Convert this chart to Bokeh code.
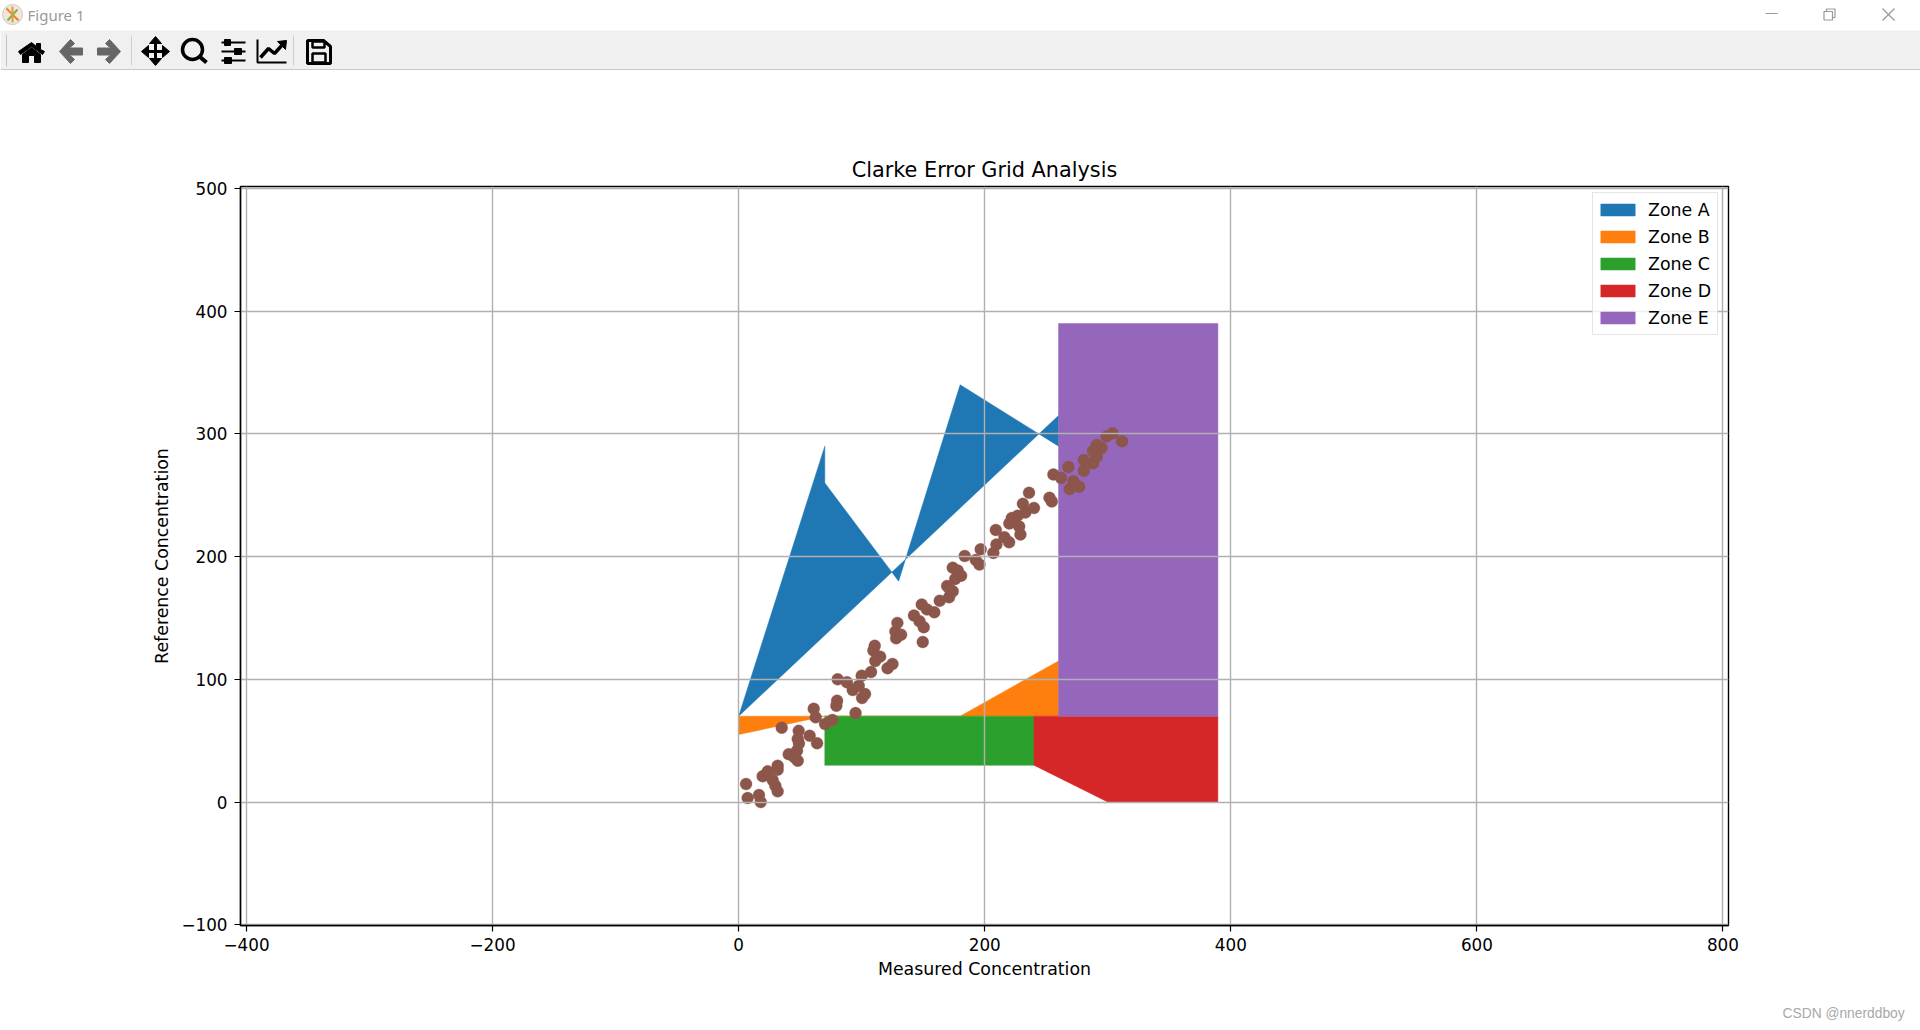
from bokeh.plotting import figure
from bokeh.models import Range1d, Legend, LegendItem
from bokeh.core.properties import value
from bokeh.embed import file_html
from bokeh.resources import INLINE

TITLE = "Clarke Error Grid Analysis"
X_LABEL = "Measured Concentration"
Y_LABEL = "Reference Concentration"
X_TICKS = [-400, -200, 0, 200, 400, 600, 800]
Y_TICKS = [-100, 0, 100, 200, 300, 400, 500]

ZONE_NAMES = ["Zone A", "Zone B", "Zone C", "Zone D", "Zone E"]
ZONE_COLORS = ["#1f77b4", "#ff7f0e", "#2ca02c", "#d62728", "#9467bd"]
ZONE_A_X = [0, 70, 70, 130, 180, 260, 260]
ZONE_A_Y = [70, 290, 260, 180, 340, 290, 315]
ZONE_B_X = [0, 70, 180, 260, 260, 0]
ZONE_B_Y = [55, 70, 70, 115, 70, 70]
ZONE_C_X = [70, 240, 240, 70]
ZONE_C_Y = [30, 30, 70, 70]
ZONE_D_X = [240, 300, 389.5, 389.5, 240]
ZONE_D_Y = [30, 0, 0, 70, 70]
ZONE_E_X = [260, 389.5, 389.5, 260]
ZONE_E_Y = [70, 70, 390, 390]

POINTS_X = [6, 7.3, 16.5, 17.9, 19.5, 23.6, 31.7, 31.7, 27.6, 29.8, 31.7, 40.7, 45.3, 48, 47.4, 49, 48.8, 48,
            57.7, 63.7, 35, 61, 62.6, 70.2, 76.2, 80, 79.4, 80.5, 88, 92.7, 97.6, 100.3, 102.7, 95, 100, 107.6,
            110.6, 109.5, 115, 111, 121, 125, 127.4, 129, 132, 128, 142.5, 147, 150.4, 149.6, 148.8, 153, 159,
            163.4, 171, 169.4, 174, 171.5, 174, 178, 180.8, 176, 183.7, 192.7, 195.7, 196.7, 207, 209.5, 209,
            216, 219.8, 229, 228, 220, 222, 226.8, 233, 240, 231, 236, 252.6, 254.5, 255.8, 262, 268, 269, 272,
            276.7, 280.5, 280.5, 288, 291, 288, 295, 291, 299, 304, 311.6]
POINTS_Y = [14.7, 3.3, 5.7, 0, 21, 25, 29.6, 26.4, 18, 13.3, 8.7, 39, 36.4, 33.7, 41.8, 47.8, 58, 51.4,
            54, 48, 60.6, 76, 69, 63.6, 66.8, 82.6, 78.5, 100, 97.6, 91.3, 94.8, 84.8, 88, 72.5, 103, 106,
            127.4, 123.4, 118.5, 115, 109, 112.5, 139, 146, 136.4, 133.4, 152, 147.3, 142.4, 130.4, 160.9, 157, 154.6,
            164, 166.8, 176, 171.7, 173.6, 191, 188.6, 184.5, 181.8, 200.5, 197.3, 193.5, 206, 203, 209.8, 221.7,
            215.8, 211.7, 218, 224.5, 227, 231.5, 233.4, 236, 239.7, 243, 252, 248, 245, 267, 264, 273, 255, 261.4,
            257, 270, 278.8, 276, 281.5, 286, 288.6, 291, 297.8, 300.5, 294]
POINT_COLOR = "#8c564b"

# ---------- window chrome (title bar and toolbar strip) ----------
chrome = figure(width=1920, height=70, x_range=Range1d(0, 1920), y_range=Range1d(70, 0),
                x_axis_type=None, y_axis_type=None, toolbar_location=None, output_backend="svg",
                min_border=0, outline_line_color=None)
chrome.xgrid.visible = False
chrome.ygrid.visible = False
chrome.quad(left=0, right=1920, top=30, bottom=70, fill_color="#f0f0f0", line_color=None)
chrome.line([0, 1920], [69.5, 69.5], line_color="#bdbdbd", line_width=1.5)
chrome.text([27], [14], text=["Figure 1"], text_font=value("Noto Sans"), text_font_size="15px",
            text_color="#9a9a9a", text_baseline="middle")
chrome.scatter([12], [14], size=20, fill_color="#f4e6d8", line_color="#c8c8c8")
chrome.multi_line([[6, 18], [7, 17], [12, 12]], [[8, 20], [20, 9], [6, 22]],
                  line_color=["#e8842c", "#6fb552", "#d9a032"], line_width=2)
chrome.line([1765, 1777], [13, 13], line_color="#999999", line_width=1.2)
chrome.quad(left=[1823.5], right=[1832], top=[11], bottom=[19.5], fill_color=None, line_color="#999999", line_width=1.2)
chrome.multi_line([[1826, 1826, 1834.5, 1834.5, 1832], [1882, 1894], [1882, 1894]],
                  [[11, 8.5, 8.5, 17, 17], [8, 20], [20, 8]], line_color="#999999", line_width=1.2)
# grip and separators
chrome.multi_line([[6, 6], [131, 131], [293, 293]], [[34, 66], [35, 65], [35, 65]],
                  line_color=["#c4c4c4", "#cfcfcf", "#cfcfcf"], line_width=1)
# home
chrome.patch([18, 31, 36, 36, 40, 40, 44, 42, 31, 20], [51, 42, 46, 43, 43, 49, 51, 54, 46, 54], color="black")
chrome.patch([22, 31, 40, 40, 34, 34, 28, 28, 22], [54, 47, 54, 62, 62, 55, 55, 62, 62], color="black")
# back / forward
chrome.patch([59, 70, 74, 69, 82, 82, 69, 74, 70], [51, 39, 43, 47.5, 47.5, 54.5, 54.5, 59, 63], color="#666666")
chrome.patch([120, 109, 105, 110, 97, 97, 110, 105, 109], [51, 39, 43, 47.5, 47.5, 54.5, 54.5, 59, 63], color="#666666")
# move
chrome.multi_line([[144, 166], [155, 155]], [[51, 51], [40, 62]], line_color="black", line_width=3)
chrome.patches([[141, 148, 148], [169, 162, 162], [155, 149, 161], [155, 149, 161]],
               [[51, 45, 57], [51, 45, 57], [36, 43, 43], [65, 58, 58]], color="black")
# zoom
chrome.scatter([192], [49], size=20, fill_color=None, line_color="black", line_width=3.5)
chrome.line([199, 206], [56, 62], line_color="black", line_width=4)
# subplots
chrome.multi_line([[221, 245], [221, 245], [221, 245]], [[42, 42], [51, 51], [60, 60]], line_color="black", line_width=2)
chrome.quad(left=[224, 234, 224], right=[230, 241, 231], top=[39, 48, 57], bottom=[45, 54, 63], color="black")
# axes
chrome.line([257, 257, 286], [39, 62, 62], line_color="black", line_width=2)
chrome.line([260, 268, 274, 283], [57, 48, 53, 43], line_color="black", line_width=3.5)
chrome.patch([277, 286, 285], [41, 40, 49], color="black")
# save
chrome.patch([307, 323, 330, 330, 307], [40, 40, 46, 63, 63], fill_color=None, line_color="black", line_width=3)
chrome.quad(left=[312, 312], right=[324, 325], top=[41, 53], bottom=[47, 62], fill_color=None, line_color="black", line_width=2.5)

# ---------- chart ----------
p = figure(width=1920, height=930, x_range=Range1d(-404.9, 804.5), y_range=Range1d(-100.6, 501.6),
           toolbar_location=None, output_backend="svg",
           min_border_left=240, min_border_right=192, min_border_top=116, min_border_bottom=75,
           x_axis_label=X_LABEL, y_axis_label=Y_LABEL, title=TITLE)
p.title.align = "center"
p.title.text_font = "DejaVu Sans"
p.title.text_font_size = "20.8px"
p.title.text_font_style = "normal"
p.title.text_color = "black"
p.outline_line_color = "black"
p.outline_line_width = 1.4
p.outline_line_alpha = 1

for ax, ticks in ((p.xaxis[0], X_TICKS), (p.yaxis[0], Y_TICKS)):
    ax.ticker = ticks
    ax.major_label_overrides = {t: str(t).replace("-", "\u2212") for t in ticks}
    ax.major_label_text_font = "DejaVu Sans"
    ax.major_label_text_font_size = "16.8px"
    ax.major_label_text_color = "black"
    ax.axis_label_text_font = "DejaVu Sans"
    ax.axis_label_text_font_size = "17.36px"
    ax.axis_label_text_font_style = "normal"
    ax.axis_label_text_color = "black"
    ax.axis_line_color = "black"
    ax.axis_line_width = 1.4
    ax.major_tick_line_color = "black"
    ax.major_tick_line_width = 1.2
    ax.major_tick_in = 0
    ax.major_tick_out = 6
    ax.minor_tick_line_color = None
p.xaxis[0].major_label_standoff = 6
p.yaxis[0].major_label_standoff = 7
p.yaxis[0].axis_label_standoff = 6
for g in (p.xgrid[0], p.ygrid[0]):
    g.grid_line_color = "#b0b0b0"
    g.grid_line_width = 1.4
    g.level = "underlay"

zones = [(ZONE_A_X, ZONE_A_Y), (ZONE_B_X, ZONE_B_Y), (ZONE_C_X, ZONE_C_Y), (ZONE_D_X, ZONE_D_Y), (ZONE_E_X, ZONE_E_Y)]
items = []
for name, col, (zx, zy) in zip(ZONE_NAMES, ZONE_COLORS, zones):
    r = p.patch(zx, zy, fill_color=col, line_color=col, line_width=0.5, level="image")
    items.append(LegendItem(label=name, renderers=[r]))

p.scatter(POINTS_X, POINTS_Y, size=12, fill_color=POINT_COLOR, line_color=POINT_COLOR, line_width=0.3, level="image")

legend = Legend(items=items, location=(1592 - 240, 924 - 334), orientation="vertical",
                label_text_font="DejaVu Sans", label_text_font_size="17.36px", label_text_color="black",
                glyph_width=43, glyph_height=15, label_standoff=9, spacing=0, label_height=27, label_width=66,
                margin=0, padding=3, background_fill_color="white", background_fill_alpha=0.8,
                border_line_color="#cccccc", border_line_width=1.4)
p.add_layout(legend, "center")

# ---------- footer with the watermark ----------
footer = figure(width=1920, height=30, x_range=Range1d(0, 1920), y_range=Range1d(1030, 1000),
                x_axis_type=None, y_axis_type=None, toolbar_location=None, output_backend="svg",
                min_border=0, outline_line_color=None)
footer.xgrid.visible = False
footer.ygrid.visible = False
footer.text([1782], [1013], text=["CSDN @nnerddboy"], text_font=value("Liberation Sans"),
            text_font_size="13.8px", text_color="#a8a8a8", text_baseline="middle")

open("out.html", "w").write(file_html((chrome, p, footer), INLINE))
